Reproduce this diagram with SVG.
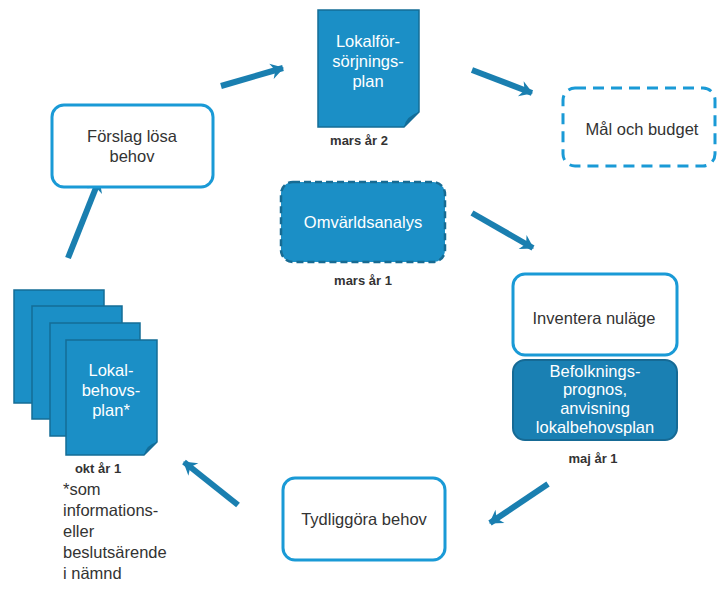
<svg xmlns="http://www.w3.org/2000/svg" width="718" height="593" viewBox="0 0 718 593">
<style>
.bg{fill:#ffffff}
.wbox{fill:#ffffff;stroke:#1a9ad6;stroke-width:3}
.dbox{fill:#ffffff;stroke:#1a9ad6;stroke-width:3;stroke-dasharray:11 7}
.obox{fill:#1b8fc6;stroke:#176b93;stroke-width:2.5;stroke-dasharray:7 4}
.bbox{fill:#1a80b3;stroke:#166a95;stroke-width:2}
.doc{fill:#1b8fc6;stroke:#156d96;stroke-width:1.5}
.curl{fill:#126d99}
.t{font-family:"Liberation Sans",Arial,sans-serif;font-size:16.5px;fill:#333333;text-anchor:middle}
.tw{font-family:"Liberation Sans",Arial,sans-serif;font-size:16.5px;fill:#ffffff;text-anchor:middle}
.lbl{font-family:"Liberation Sans",Arial,sans-serif;font-size:13px;font-weight:bold;fill:#333333;text-anchor:middle}
.note{font-family:"Liberation Sans",Arial,sans-serif;font-size:16.5px;fill:#333333}
.arr{stroke:#1a7fb0;stroke-width:6;fill:none;marker-end:url(#ah)}
</style>
<defs>
<marker id="ah" markerUnits="userSpaceOnUse" markerWidth="16" markerHeight="18" viewBox="0 0 16 18" refX="14" refY="9" orient="auto">
<path d="M2,1 L15,9 L2,17 L6,9 Z" fill="#1a7fb0"/>
</marker>
</defs>
<rect class="bg" x="0" y="0" width="718" height="593"/>

<g id="connectors">
<line class="arr" x1="221" y1="86" x2="283" y2="68"/>
<line class="arr" x1="472" y1="70" x2="532" y2="93"/>
<line class="arr" x1="472" y1="213" x2="533" y2="248"/>
<line class="arr" x1="548" y1="484" x2="490" y2="523"/>
<line class="arr" x1="238" y1="505" x2="184" y2="462"/>
<line class="arr" x1="68" y1="258" x2="99" y2="180"/>
</g>

<g id="lokalforsorjningsplan">
<path class="doc" d="M318,10 H419 V112 L404,127 H318 Z"/>
<path class="curl" d="M419,112 L404,127 Q406,116 419,112 Z"/>
<text class="tw" x="368" y="47">Lokalför-</text>
<text class="tw" x="368" y="67">sörjnings-</text>
<text class="tw" x="368" y="87">plan</text>
<text class="lbl" x="359" y="145">mars år 2</text>
</g>

<g id="mal-och-budget">
<rect class="dbox" x="563" y="88" width="152" height="78" rx="12"/>
<text class="t" x="642" y="135">Mål och budget</text>
</g>

<g id="omvarldsanalys">
<rect class="obox" x="281" y="182" width="164" height="80" rx="12"/>
<text class="tw" x="363" y="228">Omvärldsanalys</text>
<text class="lbl" x="363" y="285">mars år 1</text>
</g>

<g id="inventera-nulage">
<rect class="wbox" x="513" y="274" width="164" height="81" rx="12"/>
<text class="t" x="594" y="324">Inventera nuläge</text>
</g>

<g id="befolkningsprognos">
<rect class="bbox" x="513" y="360" width="164" height="80" rx="12"/>
<text class="tw" x="595" y="377">Befolknings-</text>
<text class="tw" x="595" y="395">prognos,</text>
<text class="tw" x="595" y="414">anvisning</text>
<text class="tw" x="595" y="433">lokalbehovsplan</text>
<text class="lbl" x="593" y="463">maj år 1</text>
</g>

<g id="tydliggora-behov">
<rect class="wbox" x="283" y="478" width="162" height="82" rx="12"/>
<text class="t" x="364" y="525">Tydliggöra behov</text>
</g>

<g id="forslag-losa-behov">
<rect class="wbox" x="52" y="105" width="161" height="82" rx="12"/>
<text class="t" x="132" y="142">Förslag lösa</text>
<text class="t" x="132" y="162">behov</text>
</g>

<g id="lokalbehovsplan">
<path class="doc" d="M14,290 H104 V390 L91,403 H14 Z"/>
<path class="doc" d="M32,306 H122 V406 L109,419 H32 Z"/>
<path class="doc" d="M50,323 H140 V423 L127,436 H50 Z"/>
<path class="doc" d="M66,340 H157 V442 L144,455 H66 Z"/>
<path class="curl" d="M157,442 L144,455 Q146,445 157,442 Z"/>
<text class="tw" x="111" y="376">Lokal-</text>
<text class="tw" x="111" y="396">behovs-</text>
<text class="tw" x="111" y="416">plan*</text>
<text class="lbl" x="98" y="473">okt år 1</text>
</g>

<g id="note">
<text class="note" x="63" y="495">*som</text>
<text class="note" x="63" y="516">informations-</text>
<text class="note" x="63" y="537">eller</text>
<text class="note" x="63" y="558">beslutsärende</text>
<text class="note" x="63" y="579">i nämnd</text>
</g>
</svg>
